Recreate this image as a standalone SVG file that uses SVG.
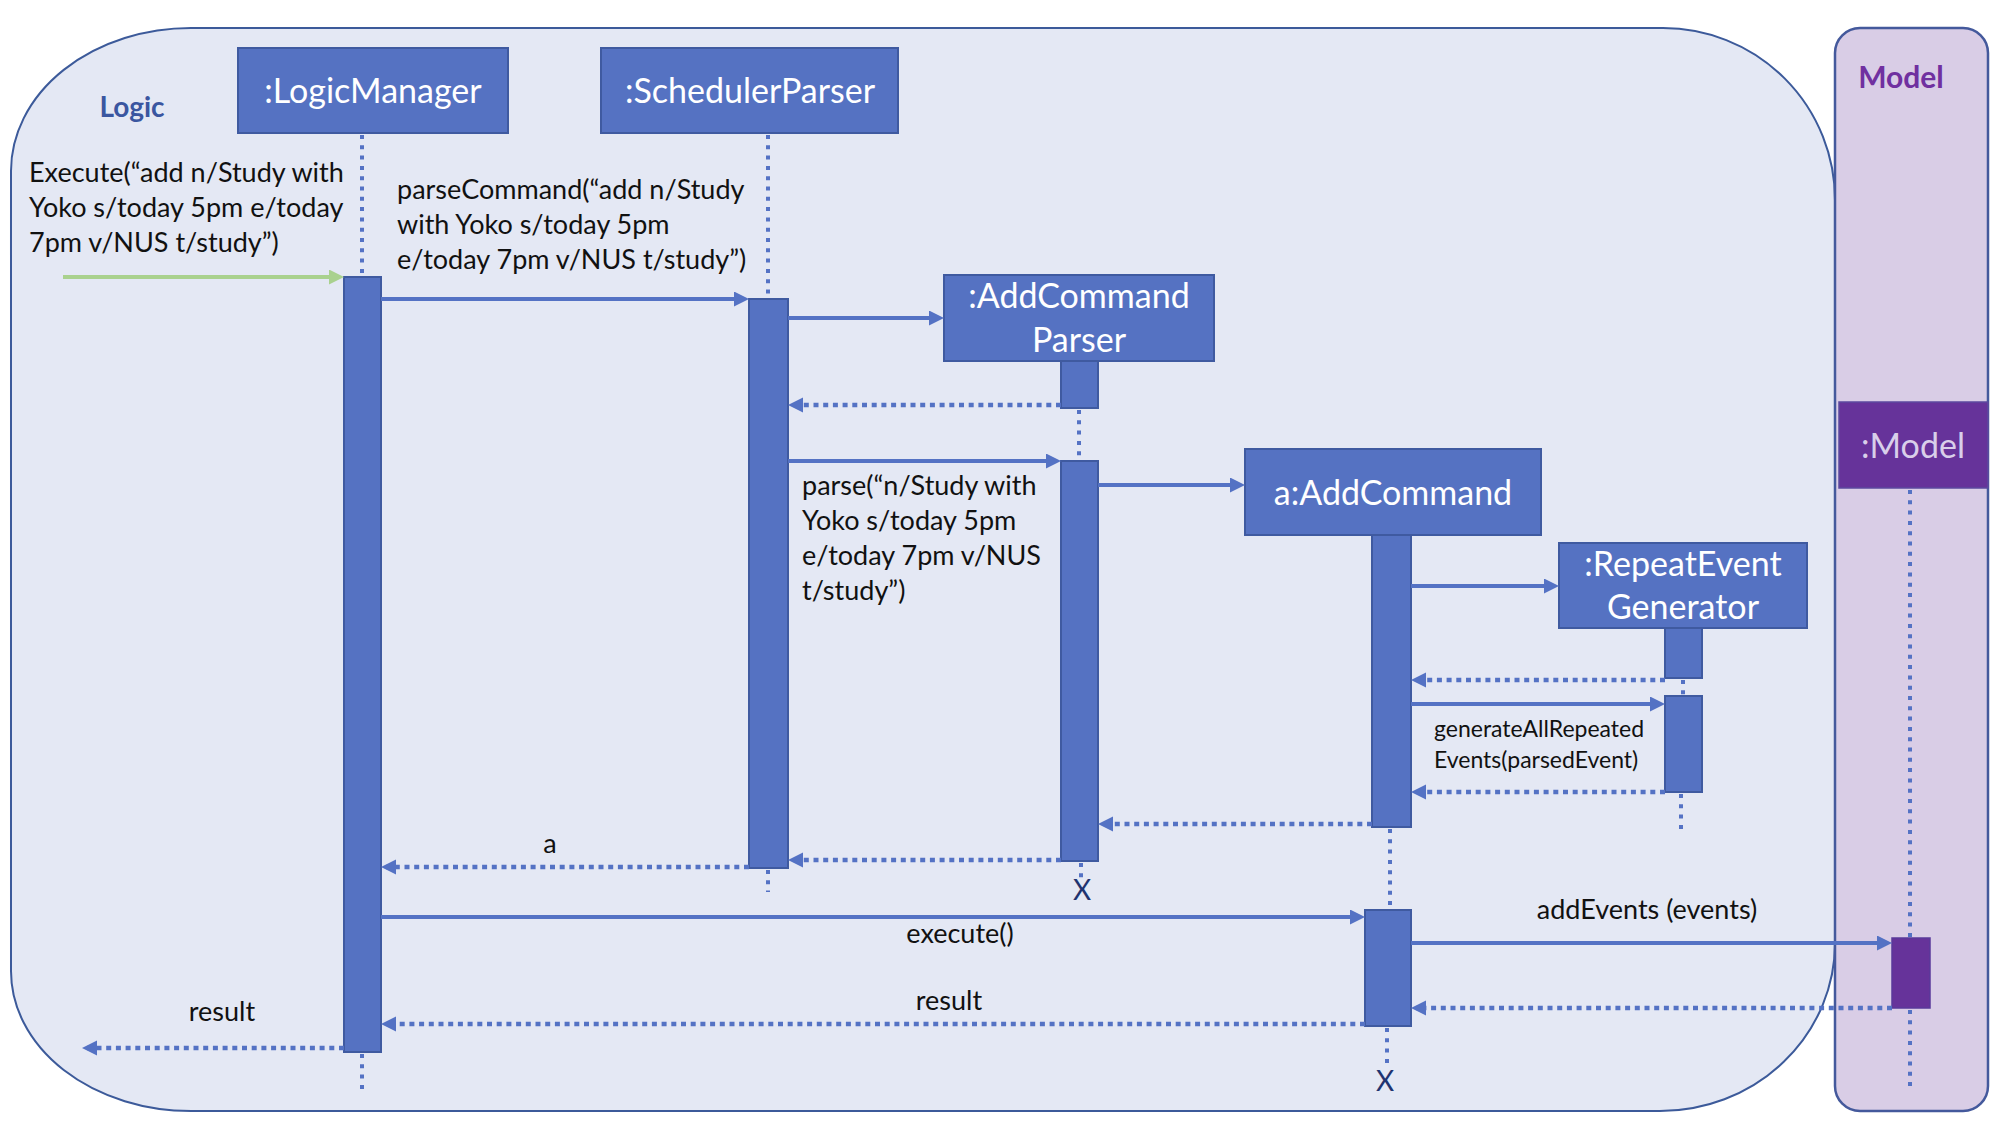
<svg xmlns="http://www.w3.org/2000/svg" width="2000" height="1125" viewBox="0 0 2000 1125">
<defs>
<style>
.box{fill:#5572C2;stroke:#3F5AA0;stroke-width:2}
.act{fill:#5572C2;stroke:#3F5AA0;stroke-width:2}
.actm{fill:#66339A;stroke:#5A3A9A;stroke-width:1.5}
.life{stroke:#5472C4;stroke-width:4;stroke-dasharray:4 6.3;fill:none}
.msg{stroke:#5472C4;stroke-width:4;fill:none}
.ret{stroke:#5472C4;stroke-width:4.5;stroke-dasharray:5 4.7;fill:none}
.bt{font-family:Lato,"Liberation Sans",sans-serif;font-size:34px;fill:#FFFFFF;text-anchor:middle}
.mt{font-family:Lato,"Liberation Sans",sans-serif;font-size:27px;fill:#111111}
.mtc{font-family:Lato,"Liberation Sans",sans-serif;font-size:27px;fill:#111111;text-anchor:middle}
.st{font-family:Lato,"Liberation Sans",sans-serif;font-size:23px;fill:#111111}
.xt{font-family:Lato,"Liberation Sans",sans-serif;font-size:28px;fill:#1F3470;text-anchor:middle}
</style>
<marker id="ah" markerUnits="userSpaceOnUse" markerWidth="16" markerHeight="16" refX="10" refY="7.5" orient="auto">
<path d="M0,0 L15,7.5 L0,15 Z" fill="#5472C4"/>
</marker>
<marker id="ahg" markerUnits="userSpaceOnUse" markerWidth="16" markerHeight="16" refX="10" refY="7.5" orient="auto">
<path d="M0,0 L15,7.5 L0,15 Z" fill="#A9D18E"/>
</marker>
</defs>
<rect x="0" y="0" width="2000" height="1125" fill="#FFFFFF"/>

<g id="logic-frame">
<path d="M191,28 H1663 A172,172 0 0 1 1835,200 V943 A175,168 0 0 1 1660,1111 H191 A180,140 0 0 1 11,971 V171 A180,143 0 0 1 191,28 Z" fill="#E4E8F4" stroke="#3C5A9A" stroke-width="2"/>
<text x="132" y="117" font-family="Lato,'Liberation Sans',sans-serif" font-size="28" font-weight="bold" fill="#3A56A0" text-anchor="middle">Logic</text>
</g>

<g id="model-frame">
<rect x="1835" y="28" width="153" height="1083" rx="25" ry="25" fill="#D9CDE6" stroke="#44599C" stroke-width="2.5"/>
<text x="1901" y="88" font-family="Lato,'Liberation Sans',sans-serif" font-size="30" font-weight="bold" fill="#7030A0" text-anchor="middle">Model</text>
</g>

<g id="node-logicmanager">
<line class="life" x1="362" y1="135" x2="362" y2="277"/>
<line class="life" x1="362" y1="1054" x2="362" y2="1090"/>
<rect class="box" x="238" y="48" width="270" height="85"/>
<text class="bt" x="373" y="103">:LogicManager</text>
<rect class="act" x="344" y="277" width="37" height="775"/>
</g>

<g id="node-schedulerparser">
<line class="life" x1="768" y1="135" x2="768" y2="299"/>
<line class="life" x1="768" y1="870" x2="768" y2="892"/>
<rect class="box" x="601" y="48" width="297" height="85"/>
<text class="bt" x="750" y="103">:SchedulerParser</text>
<rect class="act" x="749" y="299" width="39" height="569"/>
</g>

<g id="node-addcommandparser">
<line class="life" x1="1079" y1="410" x2="1079" y2="461"/>
<line class="life" x1="1081" y1="863" x2="1081" y2="880"/>
<rect class="box" x="944" y="275" width="270" height="86"/>
<text class="bt" x="1079" y="308">:AddCommand</text>
<text class="bt" x="1079" y="352">Parser</text>
<rect class="act" x="1061" y="361" width="37" height="47"/>
<rect class="act" x="1061" y="461" width="37" height="400"/>
<text class="xt" x="1082" y="900">X</text>
</g>

<g id="node-addcommand">
<line class="life" x1="1390" y1="829" x2="1390" y2="910"/>
<line class="life" x1="1387" y1="1028" x2="1387" y2="1068"/>
<rect class="box" x="1245" y="449" width="296" height="86"/>
<text class="bt" x="1393" y="505">a:AddCommand</text>
<rect class="act" x="1372" y="535" width="39" height="292"/>
<rect class="act" x="1365" y="910" width="46" height="116"/>
<text class="xt" x="1385" y="1091">X</text>
</g>

<g id="node-repeateventgenerator">
<line class="life" x1="1683" y1="680" x2="1683" y2="696"/>
<line class="life" x1="1681" y1="794" x2="1681" y2="832"/>
<rect class="box" x="1559" y="543" width="248" height="85"/>
<text class="bt" x="1683" y="576">:RepeatEvent</text>
<text class="bt" x="1683" y="619">Generator</text>
<rect class="act" x="1665" y="628" width="37" height="50"/>
<rect class="act" x="1665" y="696" width="37" height="96"/>
</g>

<g id="node-model">
<line class="life" x1="1910" y1="490" x2="1910" y2="938"/>
<line class="life" x1="1910" y1="1010" x2="1910" y2="1090"/>
<rect x="1839" y="402" width="149" height="86" fill="#66339A" stroke="#5C4A9E" stroke-width="1.5"/>
<text x="1913" y="458" font-family="Lato,'Liberation Sans',sans-serif" font-size="34" fill="#D9CFEA" text-anchor="middle">:Model</text>
<rect class="actm" x="1892" y="938" width="38" height="70"/>
</g>

<g id="connectors">
<line x1="63" y1="277" x2="339" y2="277" stroke="#A9D18E" stroke-width="4" marker-end="url(#ahg)"/>
<text class="mt" x="29" y="182">Execute(“add n/Study with</text>
<text class="mt" x="29" y="217">Yoko s/today 5pm e/today</text>
<text class="mt" x="29" y="252">7pm v/NUS t/study”)</text>

<line class="msg" x1="381" y1="299" x2="744" y2="299" marker-end="url(#ah)"/>
<text class="mt" x="397" y="199">parseCommand(“add n/Study</text>
<text class="mt" x="397" y="234">with Yoko s/today 5pm</text>
<text class="mt" x="397" y="269">e/today 7pm v/NUS t/study”)</text>

<line class="msg" x1="788" y1="318" x2="939" y2="318" marker-end="url(#ah)"/>
<line class="ret" x1="1061" y1="405" x2="793" y2="405" marker-end="url(#ah)"/>

<line class="msg" x1="788" y1="461" x2="1056" y2="461" marker-end="url(#ah)"/>
<text class="mt" x="802" y="495">parse(“n/Study with</text>
<text class="mt" x="802" y="530">Yoko s/today 5pm</text>
<text class="mt" x="802" y="565">e/today 7pm v/NUS</text>
<text class="mt" x="802" y="600">t/study”)</text>

<line class="msg" x1="1098" y1="485" x2="1240" y2="485" marker-end="url(#ah)"/>
<line class="msg" x1="1411" y1="586" x2="1554" y2="586" marker-end="url(#ah)"/>
<line class="ret" x1="1665" y1="680" x2="1416" y2="680" marker-end="url(#ah)"/>
<line class="msg" x1="1411" y1="704" x2="1660" y2="704" marker-end="url(#ah)"/>
<text class="st" x="1434" y="737">generateAllRepeated</text>
<text class="st" x="1434" y="768">Events(parsedEvent)</text>
<line class="ret" x1="1665" y1="792" x2="1416" y2="792" marker-end="url(#ah)"/>

<line class="ret" x1="1372" y1="824" x2="1103" y2="824" marker-end="url(#ah)"/>
<line class="ret" x1="1061" y1="860" x2="793" y2="860" marker-end="url(#ah)"/>
<line class="ret" x1="749" y1="867" x2="386" y2="867" marker-end="url(#ah)"/>
<text class="mtc" x="550" y="853">a</text>

<line class="msg" x1="381" y1="917" x2="1360" y2="917" marker-end="url(#ah)"/>
<text class="mtc" x="960" y="943">execute()</text>

<line class="msg" x1="1411" y1="943" x2="1887" y2="943" marker-end="url(#ah)"/>
<text class="mtc" x="1647" y="919">addEvents (events)</text>

<line class="ret" x1="1892" y1="1008" x2="1416" y2="1008" marker-end="url(#ah)"/>
<line class="ret" x1="1365" y1="1024" x2="386" y2="1024" marker-end="url(#ah)"/>
<text class="mtc" x="949" y="1010">result</text>

<line class="ret" x1="344" y1="1048" x2="87" y2="1048" marker-end="url(#ah)"/>
<text class="mtc" x="222" y="1021">result</text>
</g>
</svg>
